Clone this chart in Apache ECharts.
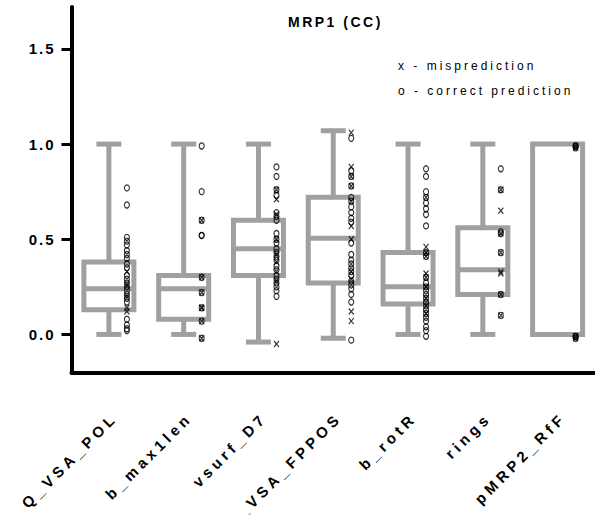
<!DOCTYPE html>
<html>
<head>
<meta charset="utf-8">
<script src="https://cdn.jsdelivr.net/npm/echarts@6/dist/echarts.min.js"></script>
<style>
  html, body { margin: 0; padding: 0; background: #fff; }
  #chart { width: 595px; height: 515px; }
  /* wide tracking on the chart texts */
  #chart text[style*="Liberation"][style*="15px"] { letter-spacing: 4.2px; }
  #chart text[style*="Arial"][style*="15px"] { letter-spacing: 2px; }
  #chart text[style*="14px"] { letter-spacing: 2.5px; }
  #chart text[style*="12px"] { letter-spacing: 3px; }
</style>
</head>
<body>
<div id="chart"></div>
<script>
// descriptors
const categories = ['Q_VSA_POL', 'b_max1len', 'vsurf_D7', 'Q_VSA_FPPOS', 'b_rotR', 'rings', 'pMRP2_RfF'];

// box-and-whisker summary per descriptor
const whiskerLow  = [0.00, 0.00, -0.04, -0.02, 0.00, 0.00, 0.00];
const quartile1   = [0.13, 0.08, 0.31, 0.27, 0.16, 0.21, 0.00];
const medians     = [0.24, 0.24, 0.45, 0.505, 0.25, 0.34, 0.00];
const quartile3   = [0.38, 0.31, 0.60, 0.72, 0.43, 0.56, 1.00];
const whiskerHigh = [1.00, 1.00, 1.00, 1.07, 1.00, 1.00, 1.00];

// individual compounds: "o" = correct prediction, "x" = misprediction
const correctPts = [
  [0.77, 0.68, 0.51, 0.49, 0.47, 0.44, 0.42, 0.40, 0.37, 0.35, 0.31, 0.29, 0.27, 0.25, 0.23, 0.21, 0.19, 0.17, 0.08, 0.05, 0.03, 0.02],
  [0.99, 0.75, 0.60, 0.52, 0.52, 0.30, 0.22, 0.14, 0.07, -0.02],
  [0.88, 0.83, 0.76, 0.73, 0.64, 0.62, 0.60, 0.53, 0.50, 0.48, 0.45, 0.43, 0.41, 0.39, 0.36, 0.34, 0.31, 0.29, 0.27, 0.25, 0.23, 0.20],
  [1.03, 0.86, 0.83, 0.78, 0.72, 0.70, 0.67, 0.64, 0.61, 0.59, 0.48, 0.42, 0.39, 0.37, 0.35, 0.33, 0.31, 0.28, 0.26, 0.24, 0.21, 0.17, -0.03],
  [0.87, 0.83, 0.75, 0.72, 0.69, 0.66, 0.63, 0.57, 0.43, 0.41, 0.30, 0.27, 0.25, 0.23, 0.21, 0.19, 0.17, 0.15, 0.13, 0.11, 0.09, 0.07, 0.04, 0.02, -0.01],
  [0.87, 0.76, 0.54, 0.53, 0.43, 0.21, 0.10],
  [0.99, 0.99, 0.98, -0.01, -0.01, -0.02]
];
const mispredPts = [
  [0.33, 0.26, 0.20, 0.14, 0.12],
  [0.60, 0.30, 0.22, 0.14, 0.14, 0.07, -0.02],
  [0.76, 0.71, 0.63, 0.50, 0.42, 0.38, 0.33, 0.28, -0.05],
  [1.06, 0.88, 0.83, 0.78, 0.70, 0.57, 0.50, 0.33, 0.29, 0.12, 0.07],
  [0.72, 0.46, 0.43, 0.41, 0.32, 0.30, 0.25, 0.19, 0.15, 0.11],
  [0.76, 0.65, 0.53, 0.43, 0.33, 0.32, 0.21, 0.10],
  [0.99, 0.98, -0.01, -0.02]
];

// value-axis tick labels
const yTicks = [0, 0.5, 1.0, 1.5];

const boxGray = '#a0a0a2';
const BOX_W = 50;
const CAP_W = 25;

function toPairs(lists) {
  const out = [];
  lists.forEach(function (vals, i) { vals.forEach(function (v) { out.push([i, v]); }); });
  return out;
}

const boxData = categories.map(function (c, i) {
  return [i, whiskerLow[i], quartile1[i], medians[i], quartile3[i], whiskerHigh[i]];
});

function renderBox(params, api) {
  const idx = api.value(0);
  const lo = api.coord([idx, api.value(1)]);
  const q1 = api.coord([idx, api.value(2)]);
  const md = api.coord([idx, api.value(3)]);
  const q3 = api.coord([idx, api.value(4)]);
  const hi = api.coord([idx, api.value(5)]);
  const x = lo[0];
  const st = { stroke: boxGray, lineWidth: 5, fill: null, lineJoin: 'miter', lineCap: 'butt' };
  const line = function (x1, y1, x2, y2) {
    return { type: 'line', shape: { x1: x1, y1: y1, x2: x2, y2: y2 }, style: st };
  };
  const kids = [];
  if (hi[1] < q3[1] - 1) {
    kids.push(line(x, q3[1], x, hi[1]));
    kids.push(line(x - CAP_W / 2, hi[1], x + CAP_W / 2, hi[1]));
  }
  if (lo[1] > q1[1] + 1) {
    kids.push(line(x, q1[1], x, lo[1]));
    kids.push(line(x - CAP_W / 2, lo[1], x + CAP_W / 2, lo[1]));
  }
  kids.push({
    type: 'rect',
    shape: { x: x - BOX_W / 2, y: q3[1], width: BOX_W, height: q1[1] - q3[1] },
    style: { stroke: boxGray, lineWidth: 5, fill: null, lineJoin: 'miter' }
  });
  kids.push(line(x - BOX_W / 2, md[1], x + BOX_W / 2, md[1]));
  return { type: 'group', children: kids };
}

const chart = echarts.init(document.getElementById('chart'), null, { renderer: 'svg' });

chart.setOption({
  animation: false,
  backgroundColor: '#ffffff',
  title: {
    text: 'MRP1 (CC)',
    left: 283,
    top: 10,
    textStyle: { fontSize: 14, fontWeight: 'bold', fontFamily: 'Liberation Sans', color: '#000' }
  },
  graphic: [
    { type: 'text', left: 398, top: 60,
      style: { text: 'x - misprediction', fontSize: 12, fontFamily: 'Arial', fill: '#000' } },
    { type: 'text', left: 398, top: 85,
      style: { text: 'o - correct prediction', fontSize: 12, fontFamily: 'Arial', fill: '#000' } }
  ],
  grid: { left: 71.5, top: 7, width: 530.6, height: 365.5 },
  xAxis: {
    type: 'category',
    data: categories,
    boundaryGap: true,
    axisLine: { onZero: false, lineStyle: { color: '#000', width: 4 } },
    axisTick: { alignWithLabel: true, interval: 0, length: 14, lineStyle: { color: '#000', width: 3 } },
    axisLabel: {
      interval: 0,
      rotate: 45,
      margin: 37,
      verticalAlign: 'top',
      lineHeight: 16,
      fontSize: 15,
      fontWeight: 'bold',
      fontFamily: 'Liberation Sans',
      color: '#000'
    },
    splitLine: { show: false }
  },
  yAxis: {
    type: 'value',
    min: -0.2,
    max: 1.72,
    axisLine: { show: true, onZero: false, lineStyle: { color: '#000', width: 4 } },
    axisTick: { show: true, customValues: yTicks, length: 10, lineStyle: { color: '#000', width: 3 } },
    axisLabel: {
      customValues: yTicks,
      formatter: function (v) { return v.toFixed(1); },
      margin: 16,
      fontSize: 15,
      fontWeight: 'bold',
      fontFamily: 'Arial',
      color: '#000'
    },
    splitLine: { show: false }
  },
  series: [
    {
      type: 'custom',
      renderItem: renderBox,
      data: boxData,
      encode: { x: 0, y: [1, 2, 3, 4, 5] },
      silent: true,
      z: 1
    },
    {
      type: 'scatter',
      name: 'correct',
      data: toPairs(correctPts),
      symbol: 'circle',
      symbolSize: [5, 6],
      symbolOffset: [18, 0],
      itemStyle: { color: 'rgba(0,0,0,0)', borderColor: '#000', borderWidth: 1.2 },
      silent: true,
      z: 3
    },
    {
      type: 'scatter',
      name: 'misprediction',
      data: toPairs(mispredPts),
      symbol: 'path://M0,0L10,12M10,0L0,12',
      symbolSize: [5, 6],
      symbolOffset: [18, 0],
      itemStyle: { color: 'rgba(0,0,0,0)', borderColor: '#000', borderWidth: 1.2 },
      silent: true,
      z: 3
    }
  ]
});
</script>
</body>
</html>
